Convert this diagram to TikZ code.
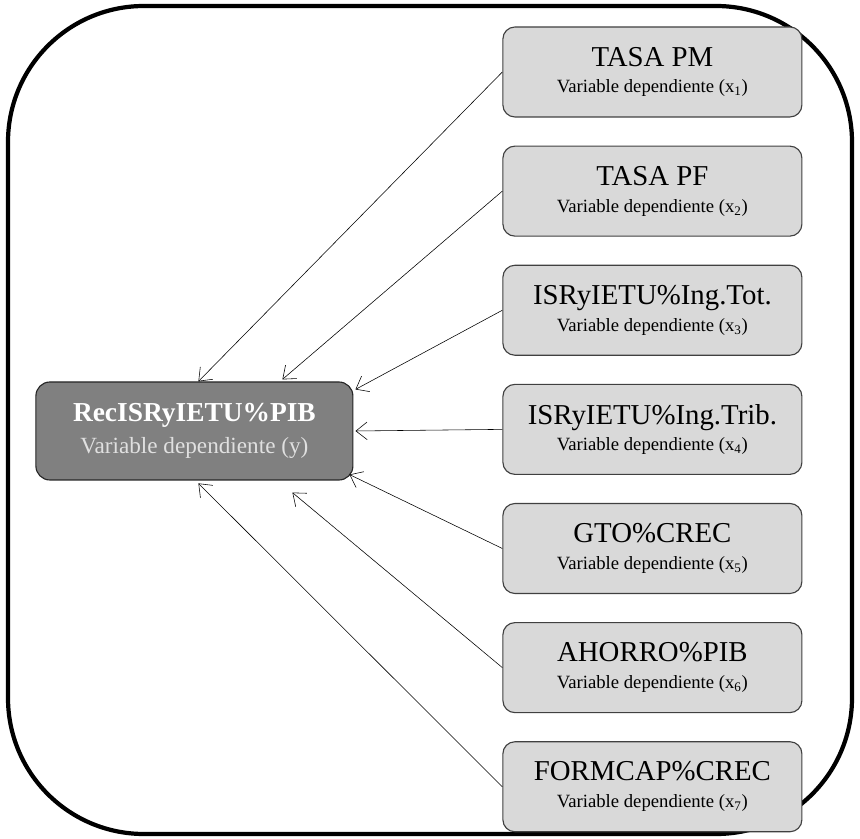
\documentclass[tikz,border=0pt]{standalone}
\usepackage{fontspec}
\setmainfont{Liberation Serif}
\usetikzlibrary{arrows.meta,positioning}
\tikzset{var node/.style={rectangle,rounded corners=3mm,draw=black!75,fill=black!15,thick,minimum width=7.475cm,minimum height=2.25cm,inner sep=0pt,align=center,font=\fontsize{13.3}{19}\selectfont},
         dep node/.style={rectangle,rounded corners=3.5mm,draw=black!85,fill=black!50,thick,minimum width=7.925cm,minimum height=2.45cm,inner sep=0pt,align=center,text=white!88!black,font=\fontsize{16.5}{23}\selectfont},
         frame line/.style={line width=3pt,rounded corners=3.4cm},
}
\newcommand{\vartitle}[1]{{\fontsize{20.5}{19}\selectfont #1}}

\begin{document}
\begin{tikzpicture}[>={Straight Barb[length=2.8mm,width=4.4mm]}]

\useasboundingbox (0,0) rectangle (21.5,20.95);
\draw[frame line] (0.2,0.1) rectangle (21.3,20.8);

% dependiente
\node[dep node] (dep) at (4.86,10.175) {{\fontsize{19.5}{23}\selectfont\bfseries\color{white}RecISRyIETU\%PIB}\\Variable dependiente (y)};

% independientes
\node[var node] (x1) at (16.31,19.15) {\vartitle{TASA PM}\\Variable dependiente (x\textsubscript{1})};
\node[var node, below=0.7cm of x1] (x2) {\vartitle{TASA PF}\\Variable dependiente (x\textsubscript{2})};
\node[var node, below=0.7cm of x2] (x3) {\vartitle{ISRyIETU\%Ing.Tot.}\\Variable dependiente (x\textsubscript{3})};
\node[var node, below=0.7cm of x3] (x4) {\vartitle{ISRyIETU\%Ing.Trib.}\\Variable dependiente (x\textsubscript{4})};
\node[var node, below=0.7cm of x4] (x5) {\vartitle{GTO\%CREC}\\Variable dependiente (x\textsubscript{5})};
\node[var node, below=0.7cm of x5] (x6) {\vartitle{AHORRO\%PIB}\\Variable dependiente (x\textsubscript{6})};
\node[var node, below=0.7cm of x6] (x7) {\vartitle{FORMCAP\%CREC}\\Variable dependiente (x\textsubscript{7})};

\draw[->] (x1.west) -- ([xshift=0.1cm]dep.north);
\draw[->] (x2.west) -- ([xshift=2.2cm,yshift=0.05cm]dep.north);
\draw[->] (x3.west) -- ([xshift=0.05cm,yshift=-0.2cm]dep.north east);
\draw[->] (x4.west) -- ([xshift=0.05cm]dep.east);
\draw[->] (x5.west) -- ([xshift=-0.1cm,yshift=0.15cm]dep.south east);
\draw[->] (x6.west) -- ([xshift=2.45cm,yshift=-0.3cm]dep.south);
\draw[->] (x7.west) -- ([xshift=0.1cm,yshift=-0.07cm]dep.south);

\end{tikzpicture}
\end{document}
